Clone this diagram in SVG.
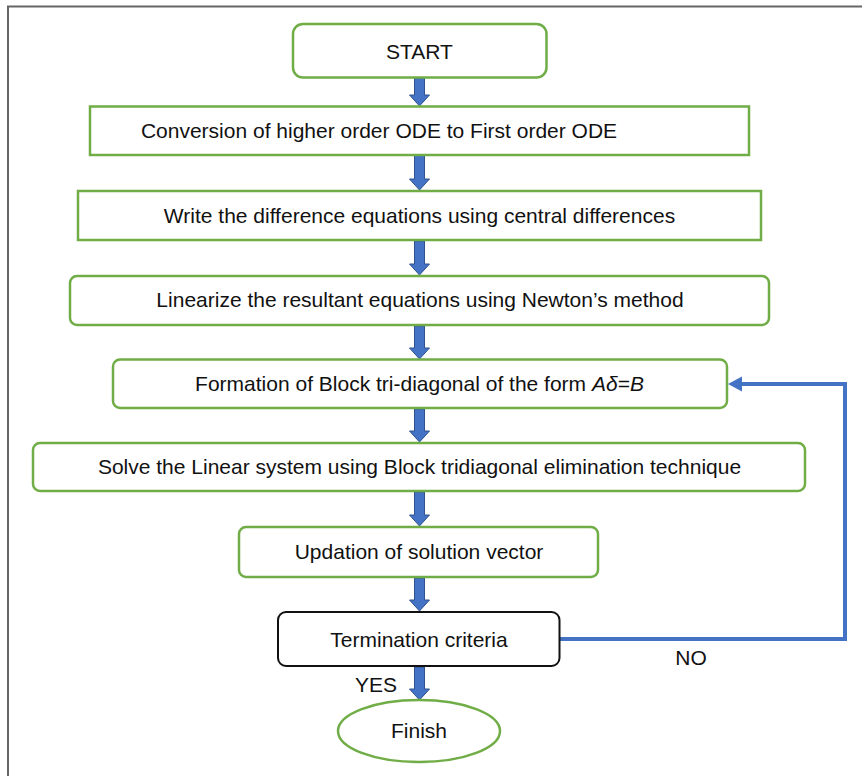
<svg xmlns="http://www.w3.org/2000/svg" width="862" height="776" viewBox="0 0 862 776">
<style>
text{font-family:"Liberation Sans",Arial,sans-serif;font-size:21px;fill:#111;text-anchor:middle}
.g{fill:#fff;stroke:#70AD47;stroke-width:2.5}
.k{fill:#fff;stroke:#111;stroke-width:2}
.arr{fill:#4472C4;stroke:#2F528F;stroke-width:1}
.loop{fill:none;stroke:#4472C4;stroke-width:4}
</style>
<rect width="862" height="776" fill="#fff"/>
<path d="M8,776 V6.5 H862" fill="none" stroke="#666" stroke-width="2"/>

<g id="connectors">
<path class="arr" d="M414.5,78 H424.5 V95 H429.5 L419.5,106 L409.5,95 H414.5 Z"/>
<path class="arr" d="M414.5,155.5 H424.5 V179 H429.5 L419.5,190 L409.5,179 H414.5 Z"/>
<path class="arr" d="M414.5,241 H424.5 V264 H429.5 L419.5,275 L409.5,264 H414.5 Z"/>
<path class="arr" d="M414.5,326 H424.5 V348 H429.5 L419.5,359 L409.5,348 H414.5 Z"/>
<path class="arr" d="M414.5,409 H424.5 V431 H429.5 L419.5,442 L409.5,431 H414.5 Z"/>
<path class="arr" d="M414.5,492 H424.5 V515 H429.5 L419.5,526 L409.5,515 H414.5 Z"/>
<path class="arr" d="M414.5,578 H424.5 V600 H429.5 L419.5,611 L409.5,600 H414.5 Z"/>
<path class="arr" d="M414.5,667 H424.5 V689 H429.5 L419.5,700 L409.5,689 H414.5 Z"/>
<polyline class="loop" points="560,639 845,639 845,384 740,384"/>
<polygon points="728,384 742,376.5 742,391.5" fill="#4472C4"/>
<text x="376" y="692">YES</text>
<text x="691" y="665">NO</text>
</g>

<g id="start"><rect class="g" x="293" y="24" width="253.5" height="53.5" rx="10"/><text x="419.5" y="58.5">START</text></g>
<g id="conversion"><rect class="g" x="90" y="106.5" width="659" height="48.5"/><text x="379" y="138">Conversion of higher order ODE to First order ODE</text></g>
<g id="difference"><rect class="g" x="78" y="191" width="683" height="49"/><text x="419.5" y="223">Write the difference equations using central differences</text></g>
<g id="linearize"><rect class="g" x="70" y="276" width="699" height="49" rx="7"/><text x="420" y="307">Linearize the resultant equations using Newton’s method</text></g>
<g id="formation"><rect class="g" x="113" y="359.5" width="614" height="48.5" rx="7"/><text x="419.5" y="391">Formation of Block tri-diagonal of the form <tspan font-style="italic">Aδ=B</tspan></text></g>
<g id="solve"><rect class="g" x="33" y="443" width="772" height="48" rx="7"/><text x="419.5" y="474">Solve the Linear system using Block tridiagonal elimination technique</text></g>
<g id="updation"><rect class="g" x="239" y="527" width="359" height="50" rx="7"/><text x="419" y="559">Updation of solution vector</text></g>
<g id="termination"><rect class="k" x="278" y="612" width="281.5" height="54" rx="8"/><text x="419" y="647">Termination criteria</text></g>
<g id="finish"><ellipse class="g" cx="419" cy="731" rx="81" ry="31"/><text x="419" y="738">Finish</text></g>
</svg>
